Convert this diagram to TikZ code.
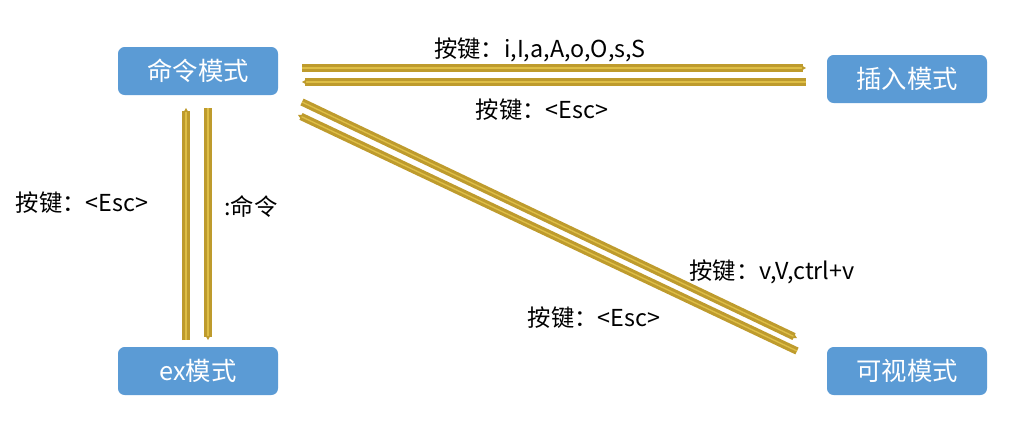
\documentclass[tikz,border=0pt]{standalone}
\usepackage{fontspec}
\setmainfont{Noto Sans CJK SC}
\usetikzlibrary{arrows.meta}
\definecolor{boxblue}{RGB}{91,155,213}
\definecolor{gold}{RGB}{222,190,70}
\definecolor{golddark}{RGB}{190,155,45}
\begin{document}
\begin{tikzpicture}[x=0.75pt,y=-0.75pt,
  mode/.style={fill=boxblue,rounded corners=5pt,minimum width=120pt,minimum height=36pt,text=white,font=\fontsize{19}{22}\selectfont,inner sep=0pt},
  conn/.style={draw=golddark,line width=2.3pt,double=gold,double distance=1pt,-{Stealth[length=4pt,width=4.5pt]}},
  lab/.style={font=\fontsize{17.5}{20}\selectfont,inner sep=0pt}]
\useasboundingbox (0,0) rectangle (1024,426);
\node[mode] (cmd) at (198,71) {命令模式};
\node[mode] (ins) at (907,79) {插入模式};
\node[mode] (ex) at (198,371) {ex模式};
\node[mode] (vis) at (907,371) {可视模式};
\coordinate (a1) at (302,68); \coordinate (a2) at (806,68);
\coordinate (b1) at (806,82); \coordinate (b2) at (302,82);
\coordinate (c1) at (186,340); \coordinate (c2) at (186,108);
\coordinate (d1) at (208,108); \coordinate (d2) at (208,340);
\coordinate (e1) at (302,102); \coordinate (e2) at (797,338);
\coordinate (f1) at (797,351); \coordinate (f2) at (298,115);
\draw[conn] (a1) -- (a2);
\draw[conn] (b1) -- (b2);
\draw[conn] (c1) -- (c2);
\draw[conn] (d1) -- (d2);
\draw[conn] (e1) -- (e2);
\draw[conn] (f1) -- (f2);
\node[lab] (l1) at (540,50) {按键：i,I,a,A,o,O,s,S};
\node[lab] (l2) at (542,110) {按键：<Esc>};
\node[lab] (l3) at (82,203) {按键：<Esc>};
\node[lab] (l4) at (251,207) {:命令};
\node[lab] (l5) at (772,272) {按键：v,V,ctrl+v};
\node[lab] (l6) at (594,318) {按键：<Esc>};
\end{tikzpicture}
\end{document}
